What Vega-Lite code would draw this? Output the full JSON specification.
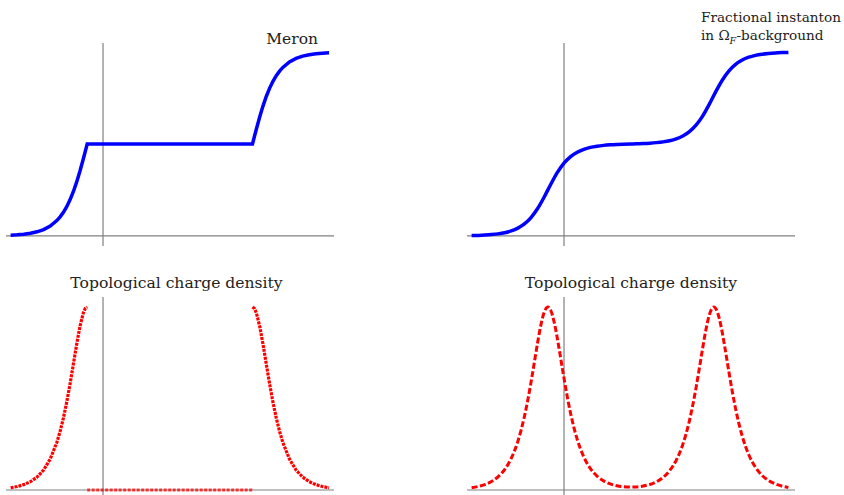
{
  "$schema": "https://vega.github.io/schema/vega-lite/v6.json",
  "background": "white",
  "padding": {"left": 3, "top": 11, "right": 0, "bottom": 0},
  "config": {"view": {"stroke": null}},
  "columns": 2,
  "spacing": {"row": 51, "column": 133},
  "bounds": "flush",
  "datasets": {
    "meron": [
      {"x": -2.8, "y": 0.0084}, {"x": -2.6, "y": 0.0126}, {"x": -2.4, "y": 0.0192}, {"x": -2.2, "y": 0.0296},
      {"x": -2.0, "y": 0.045}, {"x": -1.8, "y": 0.0692}, {"x": -1.6, "y": 0.1076}, {"x": -1.4, "y": 0.1675},
      {"x": -1.3, "y": 0.2077}, {"x": -1.2, "y": 0.2573}, {"x": -1.1, "y": 0.3185}, {"x": -1.0, "y": 0.3924},
      {"x": -0.9, "y": 0.4808}, {"x": -0.8, "y": 0.5849}, {"x": -0.7, "y": 0.7032}, {"x": -0.6, "y": 0.8338},
      {"x": -0.54, "y": 0.9162}, {"x": -0.48, "y": 1.0}, {"x": 4.53, "y": 1.0}, {"x": 4.59, "y": 1.0838},
      {"x": 4.65, "y": 1.1662}, {"x": 4.75, "y": 1.2968}, {"x": 4.85, "y": 1.4151}, {"x": 4.95, "y": 1.5192},
      {"x": 5.05, "y": 1.6076}, {"x": 5.15, "y": 1.6815}, {"x": 5.25, "y": 1.7427}, {"x": 5.35, "y": 1.7923},
      {"x": 5.45, "y": 1.8325}, {"x": 5.65, "y": 1.8924}, {"x": 5.85, "y": 1.9308}, {"x": 6.05, "y": 1.955},
      {"x": 6.25, "y": 1.9704}, {"x": 6.45, "y": 1.9808}, {"x": 6.65, "y": 1.9874}, {"x": 6.85, "y": 1.9916}
    ],
    "frac": [
      {"x": -2.8, "y": 0.0043}, {"x": -2.6, "y": 0.0064}, {"x": -2.4, "y": 0.0098}, {"x": -2.2, "y": 0.0151},
      {"x": -2.0, "y": 0.023}, {"x": -1.8, "y": 0.0354}, {"x": -1.6, "y": 0.055}, {"x": -1.4, "y": 0.0856},
      {"x": -1.2, "y": 0.1315}, {"x": -1.0, "y": 0.2004}, {"x": -0.8, "y": 0.298}, {"x": -0.6, "y": 0.4237},
      {"x": -0.4, "y": 0.5626}, {"x": -0.2, "y": 0.6907}, {"x": 0.0, "y": 0.7911}, {"x": 0.2, "y": 0.8627},
      {"x": 0.4, "y": 0.9107}, {"x": 0.6, "y": 0.9424}, {"x": 0.8, "y": 0.9632}, {"x": 1.0, "y": 0.9763},
      {"x": 1.2, "y": 0.985}, {"x": 1.4, "y": 0.9905}, {"x": 1.6, "y": 0.9944}, {"x": 1.8, "y": 0.9973},
      {"x": 2.0, "y": 1.0}, {"x": 2.2, "y": 1.0026}, {"x": 2.4, "y": 1.0055}, {"x": 2.6, "y": 1.0093},
      {"x": 2.8, "y": 1.0149}, {"x": 3.0, "y": 1.0232}, {"x": 3.2, "y": 1.036}, {"x": 3.4, "y": 1.0562},
      {"x": 3.6, "y": 1.0874}, {"x": 3.8, "y": 1.1344}, {"x": 4.0, "y": 1.2047}, {"x": 4.2, "y": 1.3036},
      {"x": 4.4, "y": 1.4305}, {"x": 4.6, "y": 1.5695}, {"x": 4.8, "y": 1.6964}, {"x": 5.0, "y": 1.7953},
      {"x": 5.2, "y": 1.8656}, {"x": 5.4, "y": 1.9126}, {"x": 5.6, "y": 1.9437}, {"x": 5.8, "y": 1.9638},
      {"x": 6.0, "y": 1.9765}, {"x": 6.2, "y": 1.9846}, {"x": 6.4, "y": 1.99}, {"x": 6.6, "y": 1.9934},
      {"x": 6.8, "y": 1.9957}
    ],
    "meronDensity": [
      {"part": "left", "x": -2.8, "y": 0.0121}, {"part": "left", "x": -2.6, "y": 0.0189}, {"part": "left", "x": -2.4, "y": 0.0293},
      {"part": "left", "x": -2.2, "y": 0.0454}, {"part": "left", "x": -2.0, "y": 0.0705}, {"part": "left", "x": -1.8, "y": 0.1093},
      {"part": "left", "x": -1.6, "y": 0.169}, {"part": "left", "x": -1.4, "y": 0.2597}, {"part": "left", "x": -1.3, "y": 0.3206},
      {"part": "left", "x": -1.2, "y": 0.3938}, {"part": "left", "x": -1.1, "y": 0.4799}, {"part": "left", "x": -1.0, "y": 0.5784},
      {"part": "left", "x": -0.9, "y": 0.6859}, {"part": "left", "x": -0.8, "y": 0.7947}, {"part": "left", "x": -0.7, "y": 0.8933},
      {"part": "left", "x": -0.6, "y": 0.9661}, {"part": "left", "x": -0.54, "y": 0.9913}, {"part": "left", "x": -0.48, "y": 1.0},
      {"part": "right", "x": 4.53, "y": 1.0}, {"part": "right", "x": 4.59, "y": 0.9913}, {"part": "right", "x": 4.65, "y": 0.9661},
      {"part": "right", "x": 4.75, "y": 0.8933}, {"part": "right", "x": 4.85, "y": 0.7947}, {"part": "right", "x": 4.95, "y": 0.6859},
      {"part": "right", "x": 5.05, "y": 0.5784}, {"part": "right", "x": 5.15, "y": 0.4799}, {"part": "right", "x": 5.25, "y": 0.3938},
      {"part": "right", "x": 5.35, "y": 0.3206}, {"part": "right", "x": 5.45, "y": 0.2597}, {"part": "right", "x": 5.65, "y": 0.169},
      {"part": "right", "x": 5.85, "y": 0.1093}, {"part": "right", "x": 6.05, "y": 0.0705}, {"part": "right", "x": 6.25, "y": 0.0454},
      {"part": "right", "x": 6.45, "y": 0.0293}, {"part": "right", "x": 6.65, "y": 0.0189}, {"part": "right", "x": 6.85, "y": 0.0121},
      {"part": "zero", "x": -0.48, "y": 0.0}, {"part": "zero", "x": 4.53, "y": 0.0}
    ],
    "fracDensity": [
      {"x": -2.8, "y": 0.0124}, {"x": -2.6, "y": 0.0193}, {"x": -2.4, "y": 0.0299}, {"x": -2.2, "y": 0.0464},
      {"x": -2.0, "y": 0.0721}, {"x": -1.8, "y": 0.1117}, {"x": -1.6, "y": 0.1727}, {"x": -1.4, "y": 0.2654},
      {"x": -1.3, "y": 0.3273}, {"x": -1.2, "y": 0.4017}, {"x": -1.1, "y": 0.4892}, {"x": -1.0, "y": 0.5888},
      {"x": -0.9, "y": 0.6968}, {"x": -0.8, "y": 0.8053}, {"x": -0.7, "y": 0.902}, {"x": -0.6, "y": 0.9714},
      {"x": -0.49, "y": 1.0}, {"x": -0.4, "y": 0.9808}, {"x": -0.3, "y": 0.9187}, {"x": -0.2, "y": 0.8261},
      {"x": -0.1, "y": 0.7189}, {"x": 0.0, "y": 0.6101}, {"x": 0.1, "y": 0.5084}, {"x": 0.2, "y": 0.4182},
      {"x": 0.3, "y": 0.3414}, {"x": 0.4, "y": 0.2769}, {"x": 0.6, "y": 0.1806}, {"x": 0.8, "y": 0.1172},
      {"x": 1.0, "y": 0.0761}, {"x": 1.2, "y": 0.0498}, {"x": 1.4, "y": 0.0333}, {"x": 1.6, "y": 0.0233},
      {"x": 1.8, "y": 0.0178}, {"x": 2.0, "y": 0.0159}, {"x": 2.2, "y": 0.017}, {"x": 2.4, "y": 0.0215},
      {"x": 2.6, "y": 0.0303}, {"x": 2.8, "y": 0.045}, {"x": 3.0, "y": 0.0684}, {"x": 3.2, "y": 0.1052},
      {"x": 3.4, "y": 0.1622}, {"x": 3.6, "y": 0.2491}, {"x": 3.7, "y": 0.3076}, {"x": 3.8, "y": 0.3782},
      {"x": 3.9, "y": 0.4617}, {"x": 4.0, "y": 0.5579}, {"x": 4.1, "y": 0.6639}, {"x": 4.2, "y": 0.7735},
      {"x": 4.3, "y": 0.8752}, {"x": 4.4, "y": 0.9545}, {"x": 4.54, "y": 1.0}, {"x": 4.6, "y": 0.9913},
      {"x": 4.7, "y": 0.9411}, {"x": 4.8, "y": 0.8561}, {"x": 4.9, "y": 0.7517}, {"x": 5.0, "y": 0.6422},
      {"x": 5.1, "y": 0.5376}, {"x": 5.2, "y": 0.4439}, {"x": 5.3, "y": 0.363}, {"x": 5.4, "y": 0.2949},
      {"x": 5.6, "y": 0.1924}, {"x": 5.8, "y": 0.1246}, {"x": 6.0, "y": 0.0804}, {"x": 6.2, "y": 0.0519},
      {"x": 6.4, "y": 0.0334}, {"x": 6.6, "y": 0.0215}, {"x": 6.8, "y": 0.0139}
    ]
  },
  "concat": [
    {
      "width": 328, "height": 203,
      "layer": [
        {"data": {"values": [{}]}, "mark": {"type": "rule", "color": "#808080", "strokeWidth": 1.2},
         "encoding": {"x": {"datum": -2.94, "type": "quantitative", "scale": {"domain": [-2.94, 7.0], "nice": false, "zero": false}, "axis": null}, "x2": {"datum": 7.0},
                      "y": {"datum": 0, "type": "quantitative", "scale": {"domain": [-0.109, 2.098], "nice": false, "zero": false}, "axis": null}}},
        {"data": {"values": [{}]}, "mark": {"type": "rule", "color": "#808080", "strokeWidth": 1.2},
         "encoding": {"x": {"datum": 0, "type": "quantitative", "scale": {"domain": [-2.94, 7.0], "nice": false, "zero": false}, "axis": null},
                      "y": {"datum": -0.109, "type": "quantitative", "scale": {"domain": [-0.109, 2.098], "nice": false, "zero": false}, "axis": null}, "y2": {"datum": 2.098}}},
        {"data": {"name": "meron"}, "mark": {"type": "line", "color": "#0000ff", "strokeWidth": 3.5, "strokeJoin": "miter"},
         "encoding": {"x": {"field": "x", "type": "quantitative", "scale": {"domain": [-2.94, 7.0], "nice": false, "zero": false}, "axis": null},
                      "y": {"field": "y", "type": "quantitative", "scale": {"domain": [-0.109, 2.098], "nice": false, "zero": false}, "axis": null}}},
        {"data": {"values": [{}]}, "mark": {"type": "text", "align": "right", "baseline": "alphabetic", "font": "DejaVu Serif", "fontSize": 15.5, "color": "#222222"},
         "encoding": {"x": {"datum": 6.515, "type": "quantitative", "scale": {"domain": [-2.94, 7.0], "nice": false, "zero": false}, "axis": null},
                      "y": {"datum": 2.087, "type": "quantitative", "scale": {"domain": [-0.109, 2.098], "nice": false, "zero": false}, "axis": null},
                      "text": {"value": "Meron"}}}
      ]
    },
    {
      "width": 328, "height": 203,
      "layer": [
        {"data": {"values": [{}]}, "mark": {"type": "rule", "color": "#808080", "strokeWidth": 1.2},
         "encoding": {"x": {"datum": -2.94, "type": "quantitative", "scale": {"domain": [-2.94, 7.0], "nice": false, "zero": false}, "axis": null}, "x2": {"datum": 7.0},
                      "y": {"datum": 0, "type": "quantitative", "scale": {"domain": [-0.109, 2.098], "nice": false, "zero": false}, "axis": null}}},
        {"data": {"values": [{}]}, "mark": {"type": "rule", "color": "#808080", "strokeWidth": 1.2},
         "encoding": {"x": {"datum": 0, "type": "quantitative", "scale": {"domain": [-2.94, 7.0], "nice": false, "zero": false}, "axis": null},
                      "y": {"datum": -0.109, "type": "quantitative", "scale": {"domain": [-0.109, 2.098], "nice": false, "zero": false}, "axis": null}, "y2": {"datum": 2.098}}},
        {"data": {"name": "frac"}, "mark": {"type": "line", "color": "#0000ff", "strokeWidth": 3.5, "interpolate": "monotone"},
         "encoding": {"x": {"field": "x", "type": "quantitative", "scale": {"domain": [-2.94, 7.0], "nice": false, "zero": false}, "axis": null},
                      "y": {"field": "y", "type": "quantitative", "scale": {"domain": [-0.109, 2.098], "nice": false, "zero": false}, "axis": null}}},
        {"data": {"values": [{}]}, "mark": {"type": "text", "align": "left", "baseline": "alphabetic", "font": "DejaVu Serif", "fontSize": 13.6, "color": "#222222"},
         "encoding": {"x": {"datum": 4.152, "type": "quantitative", "scale": {"domain": [-2.94, 7.0], "nice": false, "zero": false}, "axis": null},
                      "y": {"datum": 2.326, "type": "quantitative", "scale": {"domain": [-0.109, 2.098], "nice": false, "zero": false}, "axis": null},
                      "text": {"value": "Fractional instanton"}}},
        {"data": {"values": [{}]}, "mark": {"type": "text", "align": "left", "baseline": "alphabetic", "font": "DejaVu Serif", "fontSize": 13.6, "color": "#222222"},
         "encoding": {"x": {"datum": 4.152, "type": "quantitative", "scale": {"domain": [-2.94, 7.0], "nice": false, "zero": false}, "axis": null},
                      "y": {"datum": 2.13, "type": "quantitative", "scale": {"domain": [-0.109, 2.098], "nice": false, "zero": false}, "axis": null},
                      "text": {"value": "in Ω"}}},
        {"data": {"values": [{}]}, "mark": {"type": "text", "align": "left", "baseline": "alphabetic", "font": "DejaVu Serif", "fontStyle": "italic", "fontSize": 9.5, "color": "#222222", "dx": 28.5, "dy": 3.5},
         "encoding": {"x": {"datum": 4.152, "type": "quantitative", "scale": {"domain": [-2.94, 7.0], "nice": false, "zero": false}, "axis": null},
                      "y": {"datum": 2.13, "type": "quantitative", "scale": {"domain": [-0.109, 2.098], "nice": false, "zero": false}, "axis": null},
                      "text": {"value": "F"}}},
        {"data": {"values": [{}]}, "mark": {"type": "text", "align": "left", "baseline": "alphabetic", "font": "DejaVu Serif", "fontSize": 13.6, "color": "#222222", "dx": 35.5},
         "encoding": {"x": {"datum": 4.152, "type": "quantitative", "scale": {"domain": [-2.94, 7.0], "nice": false, "zero": false}, "axis": null},
                      "y": {"datum": 2.13, "type": "quantitative", "scale": {"domain": [-0.109, 2.098], "nice": false, "zero": false}, "axis": null},
                      "text": {"value": "-background"}}}
      ]
    },
    {
      "width": 328, "height": 198,
      "layer": [
        {"data": {"values": [{}]}, "mark": {"type": "rule", "color": "#808080", "strokeWidth": 1.2},
         "encoding": {"x": {"datum": -2.94, "type": "quantitative", "scale": {"domain": [-2.94, 7.0], "nice": false, "zero": false}, "axis": null}, "x2": {"datum": 7.0},
                      "y": {"datum": 0, "type": "quantitative", "scale": {"domain": [-0.0273, 1.0546], "nice": false, "zero": false}, "axis": null}}},
        {"data": {"values": [{}]}, "mark": {"type": "rule", "color": "#808080", "strokeWidth": 1.2},
         "encoding": {"x": {"datum": 0, "type": "quantitative", "scale": {"domain": [-2.94, 7.0], "nice": false, "zero": false}, "axis": null},
                      "y": {"datum": -0.0273, "type": "quantitative", "scale": {"domain": [-0.0273, 1.0546], "nice": false, "zero": false}, "axis": null}, "y2": {"datum": 1.0546}}},
        {"data": {"name": "meronDensity"}, "transform": [{"filter": "datum.part !== 'zero'"}],
         "mark": {"type": "line", "color": "#ff0000", "strokeWidth": 3.2, "strokeDash": [3, 1]},
         "encoding": {"x": {"field": "x", "type": "quantitative", "scale": {"domain": [-2.94, 7.0], "nice": false, "zero": false}, "axis": null},
                      "y": {"field": "y", "type": "quantitative", "scale": {"domain": [-0.0273, 1.0546], "nice": false, "zero": false}, "axis": null},
                      "detail": {"field": "part"}}},
        {"data": {"name": "meronDensity"}, "transform": [{"filter": "datum.part === 'zero'"}],
         "mark": {"type": "line", "color": "#ff0000", "opacity": 0.75, "strokeWidth": 3, "strokeDash": [3, 1.5]},
         "encoding": {"x": {"field": "x", "type": "quantitative", "scale": {"domain": [-2.94, 7.0], "nice": false, "zero": false}, "axis": null},
                      "y": {"field": "y", "type": "quantitative", "scale": {"domain": [-0.0273, 1.0546], "nice": false, "zero": false}, "axis": null}}},
        {"data": {"values": [{}]}, "mark": {"type": "text", "align": "center", "baseline": "alphabetic", "font": "DejaVu Serif", "fontSize": 15.6, "color": "#222222"},
         "encoding": {"x": {"datum": 2.227, "type": "quantitative", "scale": {"domain": [-2.94, 7.0], "nice": false, "zero": false}, "axis": null},
                      "y": {"datum": 1.104, "type": "quantitative", "scale": {"domain": [-0.0273, 1.0546], "nice": false, "zero": false}, "axis": null},
                      "text": {"value": "Topological charge density"}}}
      ]
    },
    {
      "width": 328, "height": 198,
      "layer": [
        {"data": {"values": [{}]}, "mark": {"type": "rule", "color": "#808080", "strokeWidth": 1.2},
         "encoding": {"x": {"datum": -2.94, "type": "quantitative", "scale": {"domain": [-2.94, 7.0], "nice": false, "zero": false}, "axis": null}, "x2": {"datum": 7.0},
                      "y": {"datum": 0, "type": "quantitative", "scale": {"domain": [-0.0273, 1.0546], "nice": false, "zero": false}, "axis": null}}},
        {"data": {"values": [{}]}, "mark": {"type": "rule", "color": "#808080", "strokeWidth": 1.2},
         "encoding": {"x": {"datum": 0, "type": "quantitative", "scale": {"domain": [-2.94, 7.0], "nice": false, "zero": false}, "axis": null},
                      "y": {"datum": -0.0273, "type": "quantitative", "scale": {"domain": [-0.0273, 1.0546], "nice": false, "zero": false}, "axis": null}, "y2": {"datum": 1.0546}}},
        {"data": {"name": "fracDensity"},
         "mark": {"type": "line", "color": "#ff0000", "strokeWidth": 3, "strokeDash": [6, 2.5], "interpolate": "monotone"},
         "encoding": {"x": {"field": "x", "type": "quantitative", "scale": {"domain": [-2.94, 7.0], "nice": false, "zero": false}, "axis": null},
                      "y": {"field": "y", "type": "quantitative", "scale": {"domain": [-0.0273, 1.0546], "nice": false, "zero": false}, "axis": null}}},
        {"data": {"values": [{}]}, "mark": {"type": "text", "align": "center", "baseline": "alphabetic", "font": "DejaVu Serif", "fontSize": 15.6, "color": "#222222"},
         "encoding": {"x": {"datum": 2.03, "type": "quantitative", "scale": {"domain": [-2.94, 7.0], "nice": false, "zero": false}, "axis": null},
                      "y": {"datum": 1.104, "type": "quantitative", "scale": {"domain": [-0.0273, 1.0546], "nice": false, "zero": false}, "axis": null},
                      "text": {"value": "Topological charge density"}}}
      ]
    }
  ]
}
